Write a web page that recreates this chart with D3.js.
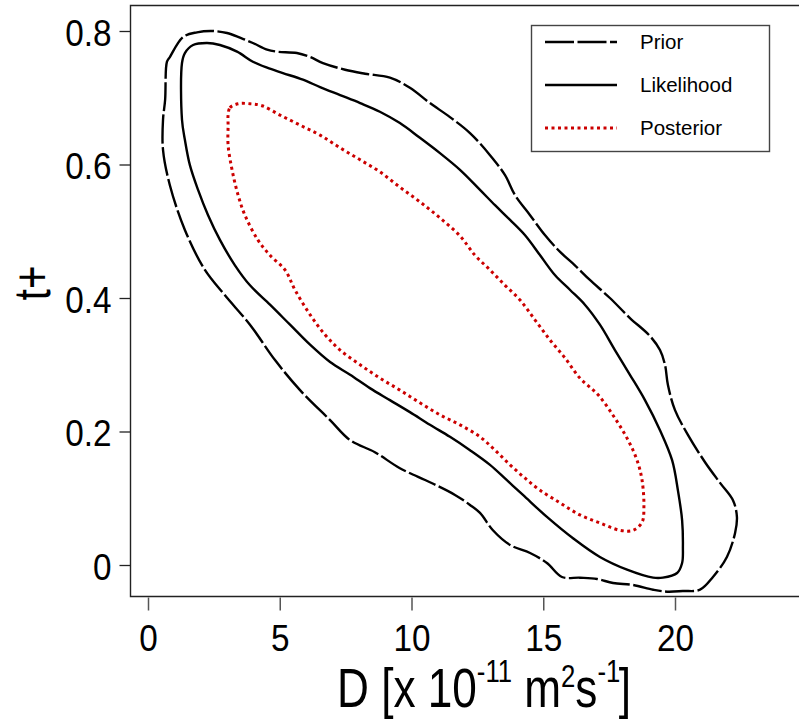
<!DOCTYPE html>
<html>
<head>
<meta charset="utf-8">
<script src="https://cdn.jsdelivr.net/npm/d3@7/dist/d3.min.js"></script>
<style>
  html, body { margin: 0; padding: 0; background: #fff; }
  svg { display: block; }
  text { font-family: "Liberation Sans", Arial, Helvetica, sans-serif; }
</style>
</head>
<body>
<svg id="chart" width="799" height="719"></svg>
<script>
// ---------------- data ----------------
const xTicks = [0, 5, 10, 15, 20];
const yTicks = [0, 0.2, 0.4, 0.6, 0.8];
const seriesNames = ["Prior", "Likelihood", "Posterior"];

// Prior contour (D, t+)
const priorD = [0.65, 0.72, 0.83, 1.33, 1.86, 2.43, 3.00, 3.49, 3.98, 4.52, 4.90, 5.65, 6.15, 6.64, 7.48, 8.24, 9.18, 9.94, 10.70, 11.46, 12.22, 12.98, 13.55, 13.93, 14.50, 15.07, 15.64, 16.20, 16.77, 17.53, 18.29, 19.05, 19.43, 19.62, 19.73, 20.00, 20.49, 21.14, 21.71, 22.20, 22.35, 22.28, 21.97, 21.44, 20.95, 20.30, 19.70, 19.17, 18.41, 17.65, 17.04, 16.39, 15.71, 15.14, 14.50, 13.74, 13.09, 12.60, 12.22, 11.65, 10.70, 9.56, 8.61, 7.67, 6.91, 5.77, 4.82, 3.87, 2.92, 2.16, 1.40, 0.83, 0.57, 0.57];
const priorT = [0.697, 0.754, 0.761, 0.791, 0.798, 0.800, 0.797, 0.790, 0.782, 0.772, 0.769, 0.767, 0.761, 0.752, 0.742, 0.736, 0.730, 0.715, 0.692, 0.671, 0.647, 0.614, 0.584, 0.554, 0.524, 0.494, 0.469, 0.449, 0.427, 0.400, 0.370, 0.343, 0.322, 0.300, 0.270, 0.232, 0.195, 0.154, 0.123, 0.097, 0.072, 0.048, 0.012, -0.018, -0.037, -0.039, -0.040, -0.037, -0.030, -0.027, -0.021, -0.019, -0.018, 0.003, 0.018, 0.030, 0.052, 0.078, 0.090, 0.105, 0.124, 0.145, 0.169, 0.187, 0.217, 0.262, 0.307, 0.360, 0.404, 0.442, 0.502, 0.569, 0.622, 0.667];

// Likelihood contour
const likelihoodD = [1.29, 1.29, 1.40, 1.71, 2.24, 2.73, 3.38, 3.98, 4.52, 5.12, 5.88, 6.53, 7.29, 8.05, 8.80, 9.56, 10.32, 11.08, 11.84, 12.60, 13.17, 13.74, 14.31, 14.88, 15.45, 16.02, 16.58, 17.15, 17.72, 18.29, 18.86, 19.43, 19.89, 20.11, 20.27, 20.30, 20.27, 20.08, 19.54, 19.17, 18.18, 17.15, 16.13, 15.14, 14.23, 13.62, 12.98, 12.22, 11.46, 10.70, 9.94, 9.18, 8.42, 7.67, 6.91, 6.15, 5.39, 4.63, 3.87, 3.30, 2.73, 2.28, 1.90, 1.59, 1.40];
const likelihoodT = [0.667, 0.752, 0.767, 0.779, 0.782, 0.779, 0.769, 0.754, 0.745, 0.737, 0.727, 0.716, 0.704, 0.692, 0.679, 0.662, 0.640, 0.617, 0.592, 0.562, 0.539, 0.517, 0.494, 0.464, 0.434, 0.412, 0.390, 0.360, 0.322, 0.285, 0.247, 0.202, 0.157, 0.112, 0.067, 0.027, 0.003, -0.012, -0.019, -0.019, -0.007, 0.012, 0.040, 0.072, 0.105, 0.127, 0.150, 0.172, 0.192, 0.210, 0.229, 0.247, 0.265, 0.285, 0.304, 0.330, 0.360, 0.390, 0.419, 0.449, 0.487, 0.524, 0.562, 0.599, 0.637];

// Posterior contour
const posteriorD = [3.04, 3.11, 3.42, 3.87, 4.33, 5.01, 5.77, 6.53, 7.29, 8.05, 8.80, 9.56, 10.32, 11.08, 11.84, 12.41, 12.98, 13.55, 14.12, 14.69, 15.26, 15.83, 16.39, 17.08, 17.72, 18.22, 18.56, 18.75, 18.82, 18.75, 18.41, 17.91, 17.15, 16.39, 15.64, 14.88, 14.31, 13.74, 13.17, 12.60, 11.84, 11.08, 10.32, 9.56, 8.80, 8.05, 7.29, 6.72, 6.15, 5.58, 5.20, 4.63, 4.17, 3.68, 3.42, 3.19, 3.04, 3.04];
const posteriorT = [0.674, 0.685, 0.691, 0.691, 0.688, 0.674, 0.659, 0.644, 0.625, 0.607, 0.589, 0.566, 0.544, 0.520, 0.493, 0.464, 0.442, 0.419, 0.397, 0.367, 0.337, 0.310, 0.280, 0.255, 0.220, 0.187, 0.157, 0.127, 0.087, 0.064, 0.052, 0.052, 0.063, 0.075, 0.093, 0.112, 0.130, 0.150, 0.172, 0.192, 0.210, 0.225, 0.243, 0.262, 0.280, 0.300, 0.322, 0.345, 0.375, 0.412, 0.442, 0.464, 0.487, 0.524, 0.554, 0.592, 0.629, 0.659];

// ---------------- layout ----------------
const svg = d3.select("#chart");
const frame = { left: 130.5, top: 5.5, bottom: 596.5, right: 799 };

const x = d3.scaleLinear().domain([0, 20]).range([148, 675]);
const y = d3.scaleLinear().domain([0, 0.8]).range([565, 31]);

const styles = [
  { stroke: "#000", width: 2.4, dash: "29,3.5" },
  { stroke: "#000", width: 2.4, dash: null },
  { stroke: "#cc0000", width: 3, dash: "3,3.5" }
];
const contours = [
  [priorD, priorT],
  [likelihoodD, likelihoodT],
  [posteriorD, posteriorT]
];

svg.append("defs").append("clipPath").attr("id", "plotclip")
  .append("rect").attr("x", frame.left).attr("y", frame.top)
  .attr("width", frame.right - frame.left).attr("height", frame.bottom - frame.top);

const plot = svg.append("g").attr("clip-path", "url(#plotclip)");

contours.forEach(([D, T], k) => {
  const idx = d3.range(D.length);
  const line = d3.line()
    .x(i => x(D[i]))
    .y(i => y(T[i]))
    .curve(d3.curveCatmullRomClosed.alpha(0.5));
  plot.append("path")
    .attr("d", line(idx))
    .attr("fill", "none")
    .attr("stroke", styles[k].stroke)
    .attr("stroke-width", styles[k].width)
    .attr("stroke-dasharray", styles[k].dash)
    .attr("stroke-linejoin", "round");
});

// frame
svg.append("path")
  .attr("d", `M${frame.right},${frame.top}H${frame.left}V${frame.bottom}H${frame.right}`)
  .attr("fill", "none").attr("stroke", "#222").attr("stroke-width", 1.4);

// x axis
const xAxis = svg.append("g").attr("transform", `translate(0,${frame.bottom + 1})`)
  .call(d3.axisBottom(x).tickValues(xTicks).tickSize(13).tickFormat(d3.format("d")));
xAxis.select(".domain").remove();
xAxis.selectAll(".tick line").attr("stroke", "#555").attr("stroke-width", 1.5);
xAxis.selectAll(".tick text")
  .attr("y", null).attr("dy", null)
  .attr("transform", "translate(0,53) scale(0.9,1)")
  .attr("text-anchor", "middle")
  .attr("fill", "#000")
  .style("font-size", "37px");

// y axis
const yAxis = svg.append("g").attr("transform", `translate(${frame.left},0)`)
  .call(d3.axisLeft(y).tickValues(yTicks).tickSize(11)
    .tickFormat(d => d === 0 ? "0" : d3.format(".1f")(d)));
yAxis.select(".domain").remove();
yAxis.selectAll(".tick line").attr("stroke", "#222").attr("stroke-width", 1.3);
yAxis.selectAll(".tick text")
  .attr("x", null).attr("dy", null)
  .attr("transform", "translate(-19,14) scale(0.9,1)")
  .attr("text-anchor", "end")
  .attr("fill", "#000")
  .style("font-size", "37px");

// x label
const xl = svg.append("text")
  .attr("text-anchor", "start")
  .attr("y", 707)
  .style("font-size", "55px")
  .attr("fill", "#000");
xl.append("tspan").text("D [x 10");
xl.append("tspan").attr("dy", -25).style("font-size", "32px").text("-11");
xl.append("tspan").attr("dy", 25).text(" m");
xl.append("tspan").attr("dy", -20).style("font-size", "32px").text("2");
xl.append("tspan").attr("dy", 20).text("s");
xl.append("tspan").attr("dy", -25).style("font-size", "32px").text("-1");
xl.append("tspan").attr("dy", 25).attr("dx", -2).text("]");
const bb = xl.node().getBBox();
const targetW = 294, targetL = 337;
const sx = targetW / bb.width;
xl.attr("transform", `translate(${targetL - bb.x * sx},0) scale(${sx},1)`);

// y label
svg.append("text")
  .attr("transform", "translate(50,283) rotate(-90) scale(0.77,1)")
  .attr("text-anchor", "middle")
  .style("font-size", "52px")
  .attr("fill", "#000")
  .text("t+");

// legend
const legend = svg.append("g");
legend.append("rect")
  .attr("x", 531.5).attr("y", 25.5).attr("width", 238).attr("height", 126)
  .attr("fill", "#fff").attr("stroke", "#444").attr("stroke-width", 1.4);
const legY = [42, 85, 128];
seriesNames.forEach((name, k) => {
  legend.append("line")
    .attr("x1", 545).attr("x2", 617)
    .attr("y1", legY[k]).attr("y2", legY[k])
    .attr("stroke", styles[k].stroke)
    .attr("stroke-width", styles[k].width)
    .attr("stroke-dasharray", styles[k].dash);
  legend.append("text")
    .attr("x", 640).attr("y", legY[k] + 7)
    .style("font-size", "20.5px")
    .attr("fill", "#000")
    .text(name);
});
</script>
</body>
</html>
